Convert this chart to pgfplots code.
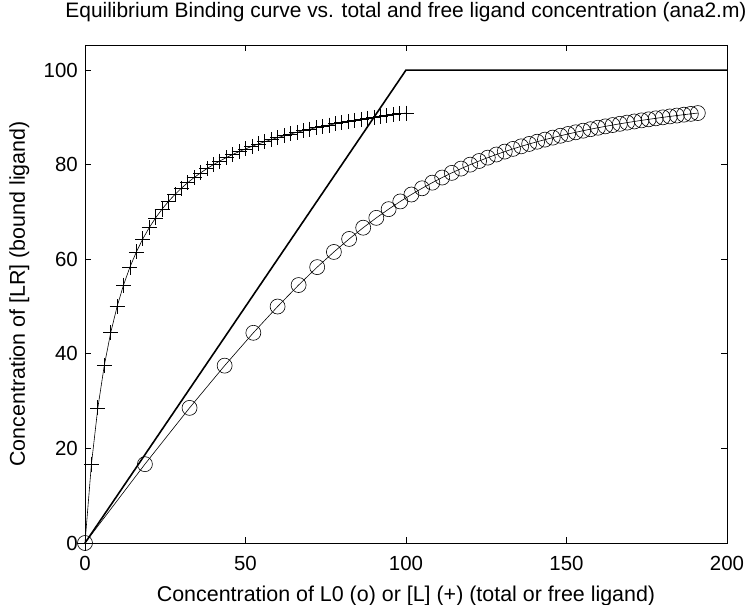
\documentclass[border=0pt]{standalone}
\usepackage{fontspec}
\setmainfont{Liberation Sans}
\usepackage{pgfplots}
\usepackage{pgfplotstable}
\pgfplotsset{compat=1.18}
\pgfplotstableread{
L L0 LR
0 0 0
2 18.667 16.667
4 32.571 28.571
6 43.5 37.5
8 52.444 44.444
10 60 50
12 66.545 54.545
14 72.333 58.333
16 77.538 61.538
18 82.286 64.286
20 86.667 66.667
22 90.75 68.75
24 94.588 70.588
26 98.222 72.222
28 101.684 73.684
30 105 75
32 108.190 76.190
34 111.273 77.273
36 114.261 78.261
38 117.167 79.167
40 120 80
42 122.769 80.769
44 125.481 81.481
46 128.143 82.143
48 130.759 82.759
50 133.333 83.333
52 135.871 83.871
54 138.375 84.375
56 140.848 84.848
58 143.294 85.294
60 145.714 85.714
62 148.111 86.111
64 150.486 86.486
66 152.842 86.842
68 155.179 87.179
70 157.5 87.5
72 159.805 87.805
74 162.095 88.095
76 164.372 88.372
78 166.636 88.636
80 168.889 88.889
82 171.130 89.130
84 173.362 89.362
86 175.583 89.583
88 177.796 89.796
90 180 90
92 182.196 90.196
94 184.385 90.385
96 186.566 90.566
98 188.741 90.741
100 190.909 90.909
}\bindata
\begin{document}
\begin{tikzpicture}
\begin{axis}[
  at={(0,0)}, anchor=south west,
  scale only axis, width=642bp, height=498bp,
  xmin=0, xmax=200, ymin=0, ymax=105.3,
  xtick={0,50,100,150,200}, ytick={0,20,40,60,80,100},
  tick align=inside, major tick length=6bp,
  axis line style={line width=0.9bp},
  every tick/.style={black, line width=0.8bp},
  tick label style={font=\fontsize{20.5}{24}\selectfont},
  /pgf/number format/assume math mode=true,
  xticklabel style={anchor=base, yshift=-27bp},
  yticklabel style={anchor=east, inner sep=0pt, xshift=-7bp},
  title={Equilibrium Binding curve vs. total and free ligand concentration (ana2.m)},
  title style={at={(axis description cs:0.5,1.0422)}, anchor=base, font=\fontsize{21}{24}\selectfont},
  xlabel={Concentration of L0 (o) or [L] (+) (total or free ligand)},
  xlabel style={at={(axis description cs:0.5,-0.1165)}, anchor=base, font=\fontsize{21.5}{24}\selectfont},
  ylabel={Concentration of [LR] (bound ligand)},
  ylabel style={at={(axis description cs:-0.0935,0.5)}, anchor=base, rotate=0, font=\fontsize{21.5}{24}\selectfont},
  clip=false,
]
\addplot[black, line width=0.6bp, mark=o, mark size=7.5bp, mark options={line width=0.6bp}] table[x=L0, y=LR] {\bindata};
\addplot[black, line width=0.6bp, mark=+, mark size=7.5bp, mark options={line width=0.7bp}] table[x=L, y=LR] {\bindata};
\addplot[black, line width=1.6bp] coordinates {(0,0) (100,100) (200,100)};
\end{axis}
\pgfresetboundingbox
\path (-85bp,-62bp) rectangle (668bp,543bp);
\end{tikzpicture}
\end{document}
